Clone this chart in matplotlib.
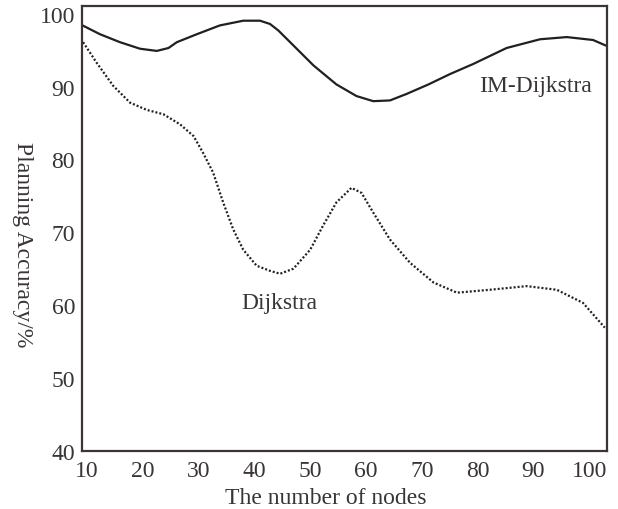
import matplotlib.pyplot as plt

# Valeurs
im_x = [9.2, 12.3, 15.9, 19.5, 22.5, 24.6, 26.1, 29.7, 33.8, 38.0, 41.0, 42.8,
        44.3, 46.4, 50.6, 54.7, 58.3, 61.3, 64.3, 67.3, 71.2, 75.0, 79.2, 85.2,
        91.2, 96.0, 100.7, 103.1]
im_y = [98.4, 97.2, 96.1, 95.2, 94.9, 95.3, 96.1, 97.2, 98.4, 99.05, 99.05, 98.6,
        97.7, 96.1, 92.9, 90.3, 88.7, 88.0, 88.1, 89.0, 90.3, 91.7, 93.1, 95.3,
        96.5, 96.8, 96.4, 95.6]

dj_x = [9.3, 11.7, 14.7, 17.7, 20.7, 23.7, 26.7, 29.1, 30.8, 32.6, 34.4, 36.2,
        38.0, 40.4, 42.8, 44.6, 47.0, 50.0, 52.3, 54.7, 57.4, 59.2, 61.3, 64.3,
        67.9, 72.1, 76.3, 82.2, 88.8, 94.2, 98.9, 102.8]
dj_y = [96.1, 93.3, 90.1, 87.8, 86.8, 86.2, 84.8, 83.2, 80.9, 78.2, 74.1, 70.4,
        67.6, 65.4, 64.7, 64.3, 65.0, 67.6, 70.9, 74.1, 76.1, 75.4, 72.7, 69.0,
        65.8, 63.1, 61.7, 62.1, 62.6, 62.1, 60.3, 56.9]

x_ticks = [10, 20, 30, 40, 50, 60, 70, 80, 90, 100]
y_ticks = [40, 50, 60, 70, 80, 90, 100]

plt.rcParams['font.family'] = ['Liberation Serif', 'DejaVu Serif']
txt = '#3a3535'

fig = plt.figure(figsize=(6.18, 5.10), dpi=100)
ax = fig.add_axes([0.1327, 0.1143, 0.8495, 0.871])

ax.plot(im_x, im_y, color='#231f20', linewidth=1.6, solid_joinstyle='round',
        solid_capstyle='round')
ax.plot(dj_x, dj_y, color='#231f20', linewidth=1.6, linestyle=(0, (0.9, 0.9)))

ax.set_xlim(9.1, 103.2)
ax.set_ylim(40, 101)
ax.set_xticks(x_ticks)
ax.set_yticks(y_ticks)
ax.tick_params(length=0, labelsize=17, labelcolor=txt)
ax.tick_params(axis='x', pad=7)
ax.tick_params(axis='y', pad=5)

for s in ax.spines.values():
    s.set_color('#3c3434')
    s.set_linewidth(1.6)

ax.text(90.3, 90.1, 'IM-Dijkstra', fontsize=17, color=txt, ha='center', va='center')
ax.text(44.4, 60.4, 'Dijkstra', fontsize=17, color=txt, ha='center', va='center')

fig.text(0.527, 0.022, 'The number of nodes', fontsize=17, color=txt,
         ha='center', va='center')
fig.text(0.036, 0.52, 'Planning Accuracy/%', fontsize=17, color=txt,
         ha='center', va='center', rotation=-90)

plt.savefig('out.png', dpi=100)
plt.close()
